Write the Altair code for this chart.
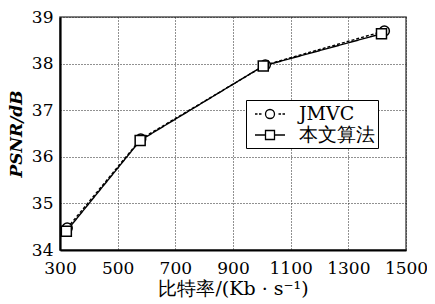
import altair as alt
import pandas as pd

series = ["JMVC", "本文算法"]
jmvc_rate = [325, 580, 1012, 1425]
jmvc_psnr = [34.47, 36.38, 37.97, 38.70]
ours_rate = [322, 578, 1005, 1415]
ours_psnr = [34.40, 36.35, 37.95, 38.64]
x_ticks = [300, 500, 700, 900, 1100, 1300, 1500]
y_ticks = [34, 35, 36, 37, 38, 39]

df = pd.DataFrame({
    "rate": jmvc_rate + ours_rate,
    "psnr": jmvc_psnr + ours_psnr,
    "method": [series[0]] * len(jmvc_rate) + [series[1]] * len(ours_rate),
})

SERIF = "DejaVu Serif"

x_enc = alt.X("rate:Q", scale=alt.Scale(domain=[300, 1500], nice=False, zero=False),
              axis=alt.Axis(values=x_ticks, format="d", title="比特率/(Kb · s⁻¹)",
                            ticks=False, labelPadding=10, titlePadding=3, labelOverlap=False,
                            labelFlush=False,
                            titleFontWeight="normal", titleFontSize=19))
y_enc = alt.Y("psnr:Q", scale=alt.Scale(domain=[34, 39], nice=False, zero=False),
              axis=alt.Axis(values=y_ticks, format="d", title="PSNR/dB",
                            ticks=False, labelPadding=7, titlePadding=6, labelOverlap=False,
                            labelFlush=False,
                            titleFontStyle="italic", titleFontWeight="bold",
                            titleFontSize=17))

base = alt.Chart(df)

lines = base.mark_line(color="black", strokeWidth=1.4).encode(
    x=x_enc, y=y_enc,
    detail="method:N",
    strokeDash=alt.StrokeDash("method:N", scale=alt.Scale(domain=series, range=[[3, 2], [1, 0]]), legend=None),
)

points = base.mark_point(filled=True, fill="white", stroke="black", strokeWidth=1.5, size=100, opacity=1).encode(
    x="rate:Q", y="psnr:Q",
    shape=alt.Shape("method:N", scale=alt.Scale(domain=series, range=["circle", "square"]), legend=None),
)

circle_path = ("M-1.5,0L-1.25,0M-1.1,0L-0.85,0M-0.45,0A0.45,0.45 0 1,1 0.45,0A0.45,0.45 0 1,1 -0.45,0"
               "M0.85,0L1.1,0M1.25,0L1.5,0")
square_path = "M-1.5,0L-0.45,0M-0.45,-0.45L0.45,-0.45L0.45,0.45L-0.45,0.45ZM0.45,0L1.5,0"

legend_layer = base.mark_point(filled=False, stroke="black", strokeWidth=1.3, opacity=0).encode(
    x="rate:Q", y="psnr:Q",
    shape=alt.Shape("method:N",
                    scale=alt.Scale(domain=series, range=[circle_path, square_path]),
                    legend=alt.Legend(title=None, orient="none", legendX=186, legendY=83,
                                      symbolSize=400, symbolOpacity=1, symbolStrokeColor="black",
                                      symbolStrokeWidth=1.3, symbolFillColor="transparent",
                                      symbolOffset=10,
                                      labelFont=SERIF, labelFontSize=19, labelColor="black",
                                      labelExpr="datum.label + '\u00a0\u00a0\u00a0'",
                                      labelOffset=18, strokeColor="black", fillColor="white",
                                      padding=3, rowPadding=0)),
)

chart = alt.layer(lines, points, legend_layer).resolve_scale(
    shape="independent"
).properties(
    width=346, height=233,
    autosize=alt.AutoSizeParams(type="none"),
    padding={"left": 52, "top": 9, "right": 21, "bottom": 52},
).configure_axis(
    labelFont=SERIF, labelFontSize=17, labelColor="black",
    titleFont=SERIF, titleColor="black",
    domainColor="black", domainWidth=2.2,
    gridColor="#222", gridDash=[1, 2], gridWidth=1, gridOpacity=1,
).configure_view(
    stroke="#555", strokeWidth=1.5,
)

chart.save("out.html", embed_options={"renderer": "svg", "actions": False})
